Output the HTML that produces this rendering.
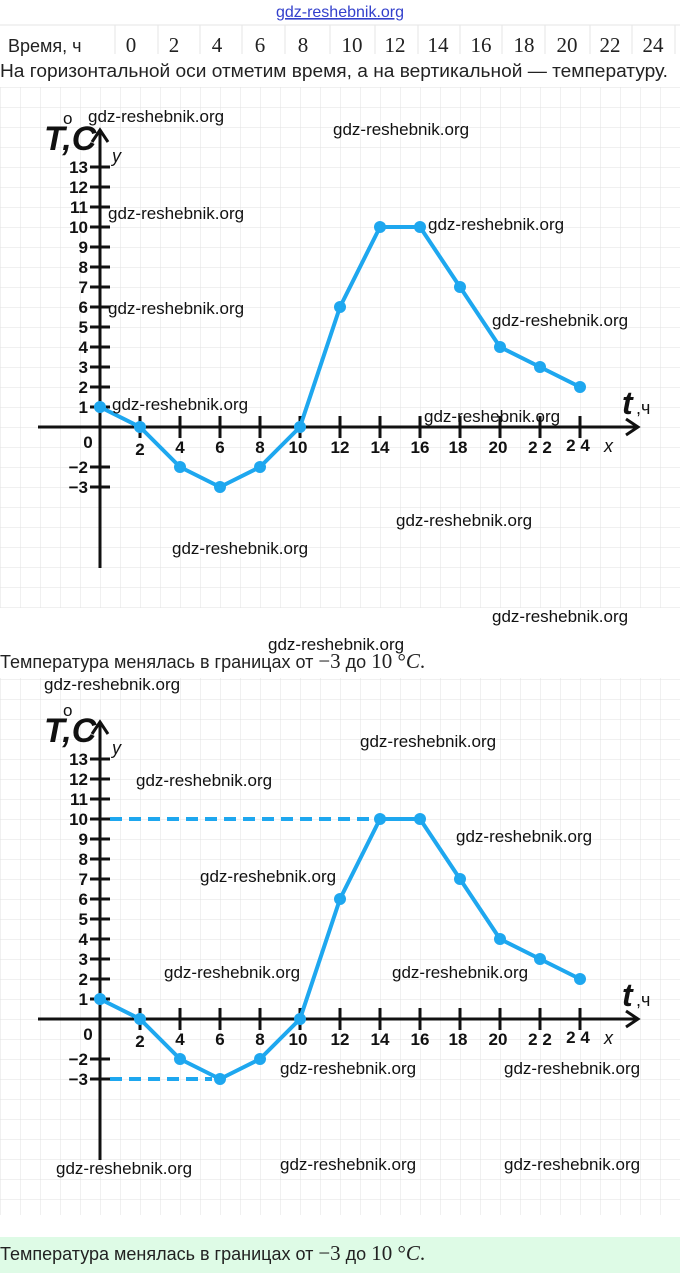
<!DOCTYPE html>
<html><head><meta charset="utf-8"><style>
html,body{margin:0;padding:0;background:#fff;}
svg{display:block;}
.wm{font-family:"Liberation Sans Narrow","Liberation Sans",sans-serif;font-size:17px;fill:#111;}
.tk{font-family:"Liberation Sans",sans-serif;font-size:17px;fill:#111;font-weight:bold;}
.cap{font-family:"Liberation Sans","DejaVu Sans",sans-serif;font-size:18px;fill:#222;}
.ser{font-family:"Liberation Serif",serif;font-size:21px;fill:#222;}
</style></head><body>
<svg width="680" height="1273" viewBox="0 0 680 1273" xmlns="http://www.w3.org/2000/svg">
<defs>
<pattern id="g1" x="0" y="7" width="20" height="20" patternUnits="userSpaceOnUse">
<path d="M0 0H20M0 0V20" stroke="#e2e2e2" stroke-width="1" fill="none"/>
</pattern>
<pattern id="g2" x="0" y="19" width="20" height="20" patternUnits="userSpaceOnUse">
<path d="M0 0H20M0 0V20" stroke="#e2e2e2" stroke-width="1" fill="none"/>
</pattern>
</defs>
<text x="340" y="17" text-anchor="middle" font-family="Liberation Sans Narrow,Liberation Sans,sans-serif" font-size="16" fill="#3340cc" text-decoration="underline">gdz-reshebnik.org</text>
<g stroke="#e6e6e6">
<line x1="0" y1="25" x2="680" y2="25"/>
<line x1="115" y1="25" x2="115" y2="54"/><line x1="158" y1="25" x2="158" y2="54"/><line x1="200" y1="25" x2="200" y2="54"/><line x1="242" y1="25" x2="242" y2="54"/><line x1="285" y1="25" x2="285" y2="54"/><line x1="330" y1="25" x2="330" y2="54"/><line x1="375" y1="25" x2="375" y2="54"/><line x1="418" y1="25" x2="418" y2="54"/><line x1="460" y1="25" x2="460" y2="54"/><line x1="502" y1="25" x2="502" y2="54"/><line x1="545" y1="25" x2="545" y2="54"/><line x1="590" y1="25" x2="590" y2="54"/><line x1="632" y1="25" x2="632" y2="54"/><line x1="675" y1="25" x2="675" y2="54"/>
</g>
<text x="8" y="52" class="cap" font-size="15">Время, ч</text>
<g class="ser" font-size="18" text-anchor="middle">
<text x="131" y="52">0</text><text x="174" y="52">2</text><text x="217" y="52">4</text><text x="260" y="52">6</text><text x="303" y="52">8</text><text x="352" y="52">10</text><text x="395" y="52">12</text><text x="438" y="52">14</text><text x="481" y="52">16</text><text x="524" y="52">18</text><text x="567" y="52">20</text><text x="610" y="52">22</text><text x="653" y="52">24</text>
</g>
<text x="0" y="77" class="cap" textLength="668" lengthAdjust="spacingAndGlyphs">На горизонтальной оси отметим время, а на вертикальной — температуру.</text>

<rect x="0" y="87" width="680" height="521" fill="url(#g1)"/>
<g id="c1">
<line x1="38" y1="427" x2="636" y2="427" stroke="#111" stroke-width="3"/>
<path d="M626 419L638 427L626 435" stroke="#111" stroke-width="3" fill="none"/>
<line x1="100" y1="568" x2="100" y2="132" stroke="#111" stroke-width="3"/>
<path d="M92 142L100 130L108 142" stroke="#111" stroke-width="3" fill="none"/>
<g stroke="#111" stroke-width="3">
<line x1="90" y1="407" x2="110" y2="407"/><line x1="90" y1="387" x2="110" y2="387"/><line x1="90" y1="367" x2="110" y2="367"/><line x1="90" y1="347" x2="110" y2="347"/><line x1="90" y1="327" x2="110" y2="327"/><line x1="90" y1="307" x2="110" y2="307"/><line x1="90" y1="287" x2="110" y2="287"/><line x1="90" y1="267" x2="110" y2="267"/><line x1="90" y1="247" x2="110" y2="247"/><line x1="90" y1="227" x2="110" y2="227"/><line x1="90" y1="207" x2="110" y2="207"/><line x1="90" y1="187" x2="110" y2="187"/><line x1="90" y1="167" x2="110" y2="167"/><line x1="90" y1="467" x2="110" y2="467"/><line x1="90" y1="487" x2="110" y2="487"/>
<line x1="140" y1="416" x2="140" y2="438"/><line x1="180" y1="416" x2="180" y2="438"/><line x1="220" y1="416" x2="220" y2="438"/><line x1="260" y1="416" x2="260" y2="438"/><line x1="300" y1="416" x2="300" y2="438"/><line x1="340" y1="416" x2="340" y2="438"/><line x1="380" y1="416" x2="380" y2="438"/><line x1="420" y1="416" x2="420" y2="438"/><line x1="460" y1="416" x2="460" y2="438"/><line x1="500" y1="416" x2="500" y2="438"/><line x1="540" y1="416" x2="540" y2="438"/><line x1="580" y1="416" x2="580" y2="438"/>
</g>
<g class="tk" text-anchor="end">
<text x="88" y="413">1</text><text x="88" y="393">2</text><text x="88" y="373">3</text><text x="88" y="353">4</text><text x="88" y="333">5</text><text x="88" y="313">6</text><text x="88" y="293">7</text><text x="88" y="273">8</text><text x="88" y="253">9</text><text x="88" y="233">10</text><text x="88" y="213">11</text><text x="88" y="193">12</text><text x="88" y="173">13</text><text x="88" y="473">−2</text><text x="88" y="493">−3</text>
</g>
<g class="tk" text-anchor="middle">
<text x="88" y="448">0</text><text x="140" y="455">2</text><text x="180" y="453">4</text><text x="220" y="453">6</text><text x="260" y="453">8</text><text x="298" y="453">10</text><text x="340" y="453">12</text><text x="380" y="453">14</text><text x="420" y="453">16</text><text x="458" y="453">18</text><text x="498" y="453">20</text><text x="540" y="453">2 2</text><text x="578" y="451">2 4</text>
</g>
<text x="604" y="452" font-family="Liberation Sans" font-style="italic" font-size="18" fill="#111">x</text>
<text x="112" y="162" font-family="Liberation Sans" font-style="italic" font-size="18" fill="#111">y</text>
<text x="44" y="150" font-family="Liberation Sans" font-style="italic" font-weight="bold" font-size="34" fill="#111">T,C</text>
<text x="63" y="124" font-family="Liberation Sans" font-size="17" fill="#111">o</text>
<text x="622" y="414" font-family="Liberation Sans" font-style="italic" font-weight="bold" font-size="32" fill="#111">t</text>
<text x="636" y="414" font-family="Liberation Sans" font-size="18" fill="#111">,ч</text>
<polyline points="100,407 140,427 180,467 220,487 260,467 300,427 340,307 380,227 420,227 460,287 500,347 540,367 580,387" fill="none" stroke="#1ea7ef" stroke-width="4" stroke-linejoin="round"/>
<g fill="#1ea7ef">
<circle cx="100" cy="407" r="6"/><circle cx="140" cy="427" r="6"/><circle cx="180" cy="467" r="6"/><circle cx="220" cy="487" r="6"/><circle cx="260" cy="467" r="6"/><circle cx="300" cy="427" r="6"/><circle cx="340" cy="307" r="6"/><circle cx="380" cy="227" r="6"/><circle cx="420" cy="227" r="6"/><circle cx="460" cy="287" r="6"/><circle cx="500" cy="347" r="6"/><circle cx="540" cy="367" r="6"/><circle cx="580" cy="387" r="6"/>
</g>
</g>

<text x="0" y="668" class="cap">Температура менялась в границах от <tspan class="ser">−3</tspan> до <tspan class="ser">10 °<tspan font-style="italic">C</tspan>.</tspan></text>

<rect x="0" y="678" width="680" height="537" fill="url(#g2)"/>
<g transform="translate(0,592)">
<use href="#c1"/>
</g>
<g stroke="#1ea7ef" stroke-width="4" stroke-dasharray="12,7">
<line x1="110" y1="819" x2="372" y2="819"/>
<line x1="110" y1="1079" x2="212" y2="1079"/>
</g>

<rect x="0" y="1237" width="680" height="36" fill="#defbe6"/>
<text x="0" y="1260" class="cap">Температура менялась в границах от <tspan class="ser">−3</tspan> до <tspan class="ser">10 °<tspan font-style="italic">C</tspan>.</tspan></text>

<g class="wm">
<text x="88" y="122">gdz-reshebnik.org</text>
<text x="333" y="135">gdz-reshebnik.org</text>
<text x="108" y="219">gdz-reshebnik.org</text>
<text x="428" y="230">gdz-reshebnik.org</text>
<text x="108" y="314">gdz-reshebnik.org</text>
<text x="492" y="326">gdz-reshebnik.org</text>
<text x="112" y="410">gdz-reshebnik.org</text>
<text x="424" y="422">gdz-reshebnik.org</text>
<text x="396" y="526">gdz-reshebnik.org</text>
<text x="172" y="554">gdz-reshebnik.org</text>
<text x="492" y="622">gdz-reshebnik.org</text>
<text x="268" y="650">gdz-reshebnik.org</text>
<text x="44" y="690">gdz-reshebnik.org</text>
<text x="360" y="747">gdz-reshebnik.org</text>
<text x="136" y="786">gdz-reshebnik.org</text>
<text x="456" y="842">gdz-reshebnik.org</text>
<text x="200" y="882">gdz-reshebnik.org</text>
<text x="164" y="978">gdz-reshebnik.org</text>
<text x="392" y="978">gdz-reshebnik.org</text>
<text x="280" y="1074">gdz-reshebnik.org</text>
<text x="504" y="1074">gdz-reshebnik.org</text>
<text x="56" y="1174">gdz-reshebnik.org</text>
<text x="280" y="1170">gdz-reshebnik.org</text>
<text x="504" y="1170">gdz-reshebnik.org</text>
</g>
</svg>
</body></html>
